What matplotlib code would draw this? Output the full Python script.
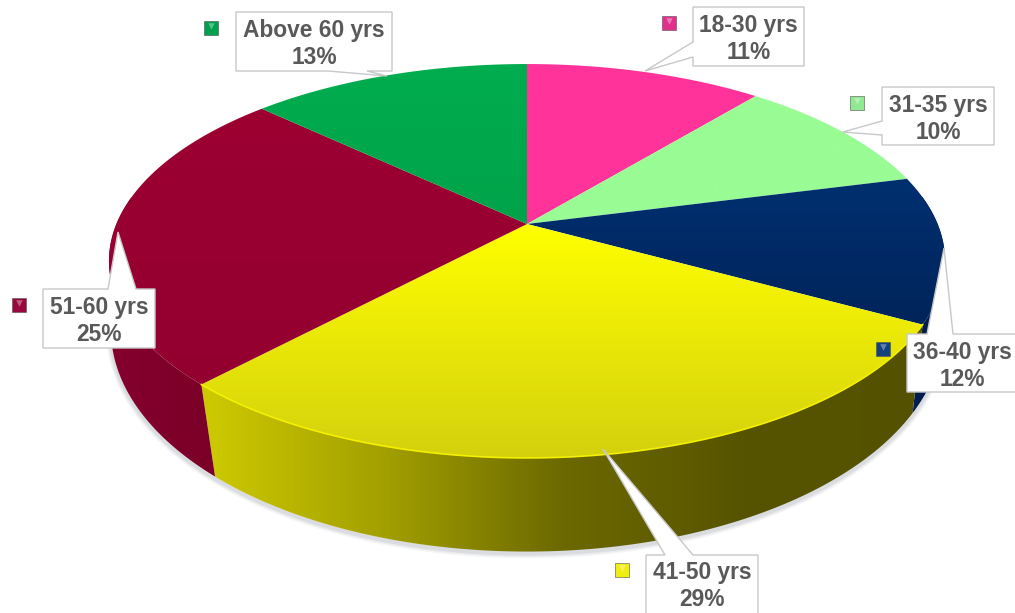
import numpy as np
import matplotlib
matplotlib.use('Agg')
import matplotlib.pyplot as plt
from matplotlib.colors import LinearSegmentedColormap
from matplotlib.patches import Polygon

# age groups, clockwise from 12 o'clock
labels = ['18-30 yrs', '31-35 yrs', '36-40 yrs', '41-50 yrs', '51-60 yrs', 'Above 60 yrs']
shares = [11, 10, 12, 29, 25, 13]

top_colors = [('#ff3399', '#ff3399'), ('#99fc94', '#99fc94'), ('#003070', '#00245a'),
              ('#ffff00', '#d4d00e'), ('#9c0032', '#930030'), ('#00ad4e', '#00a34a')]
wall_colors = [('#a01060', '#a01060'), ('#60a060', '#60a060'), ('#001f50', '#001a45'),
               ('#cfcb00', '#a3a000', '#6c6900', '#575400', '#545100'),
               ('#85002d', '#7a0028'), ('#006030', '#006030')]
marker_colors = ['#e0308c', '#90e890', '#12427e', '#f0ee10', '#99083c', '#00a050']

# label box x0, y0, x1, y1 / callout tip / where the callout leaves the box
boxes = [(693, 7, 804, 66), (882, 87, 994, 145), (907, 334, 1016, 392),
         (646, 555, 758, 625), (43, 289, 155, 348), (236, 12, 392, 71)]
tips = [(645, 71), (843, 132), (944, 248), (603, 449), (118, 232), (387, 76)]
bases = [('left', 42, 57), ('left', 121, 135), ('top', 927, 953),
         ('top', 665, 693), ('top', 108, 136), ('bottom', 328, 367)]
markers = [(669, 23), (857, 103), (883, 349), (622, 570), (19, 305), (211, 28)]

text_color = '#595959'
cx = 527


def rim(t, hub_y, b, a, k):
    # circle seen in perspective, t clockwise from the back of the pie
    u, v = np.sin(t), -np.cos(t)
    d = 1 - k * v
    return cx + b * u / d, hub_y + a * v / d


def top_rim(t):
    return rim(t, 224, 410.6, 190, 0.1878)


def bottom_rim(t):
    return rim(t, 301, 412.5, 218, 0.13)


def fill_gradient(ax, xy, colors, extent, vertical, z):
    cmap = LinearSegmentedColormap.from_list('g', list(colors))
    ramp = np.linspace(0, 1, 256)
    ramp = ramp.reshape(-1, 1) if vertical else ramp.reshape(1, -1)
    im = ax.imshow(ramp, cmap=cmap, extent=extent, origin='upper', aspect='auto',
                   zorder=z, interpolation='bilinear')
    patch = Polygon(xy, closed=True, transform=ax.transData, fc='none', ec='none')
    ax.add_patch(patch)
    im.set_clip_path(patch)


fig = plt.figure(figsize=(10.15, 6.13), dpi=100)
ax = fig.add_axes([0, 0, 1, 1])

edges = np.cumsum([0] + shares) / sum(shares) * 2 * np.pi

# soft shadow under the front rim
t_front = np.linspace(np.pi * 0.45, np.pi * 1.55, 200)
sx, sy = bottom_rim(t_front)
for lw, al in [(7, 0.05), (5, 0.07), (3, 0.1)]:
    ax.plot(sx, sy + 2, color='#506070', lw=lw, alpha=al, zorder=1, solid_capstyle='round')

# side walls
for i in range(len(shares)):
    t0, t1 = edges[i], edges[i + 1]
    t = np.linspace(t0, t1, 120)
    # only the front half of the pie shows a wall
    t = t[(np.cos(t) < 0.15)]
    if len(t) < 2:
        continue
    xt, yt = top_rim(t)
    xb, yb = bottom_rim(t)
    xy = np.column_stack([np.r_[xt, xb[::-1]], np.r_[yt, yb[::-1]]])
    ext = (xy[:, 0].min() - 1, xy[:, 0].max() + 1, xy[:, 1].max() + 1, xy[:, 1].min() - 1)
    fill_gradient(ax, xy, wall_colors[i], ext, False, 2)

# top faces
for i in range(len(shares)):
    t = np.linspace(edges[i], edges[i + 1], 160)
    xt, yt = top_rim(t)
    xy = np.column_stack([np.r_[cx, xt], np.r_[224, yt]])
    ext = (xy[:, 0].min() - 1, xy[:, 0].max() + 1, xy[:, 1].max() + 1, xy[:, 1].min() - 1)
    fill_gradient(ax, xy, top_colors[i], ext, True, 3)

# thin light edge on the yellow rim
t = np.linspace(edges[3], edges[4], 160)
xt, yt = top_rim(t)
ax.plot(xt, yt, color='#f4f000', lw=1.2, zorder=4)

# callouts and labels
for i in range(len(labels)):
    x0, y0, x1, y1 = boxes[i]
    side, b0, b1 = bases[i]
    if side == 'top':
        pts = [(x0, y0), (b0, y0), tips[i], (b1, y0), (x1, y0), (x1, y1), (x0, y1)]
    elif side == 'bottom':
        pts = [(x0, y0), (x1, y0), (x1, y1), (b1, y1), tips[i], (b0, y1), (x0, y1)]
    else:
        pts = [(x0, y0), (x1, y0), (x1, y1), (x0, y1), (x0, b1), tips[i], (x0, b0)]
    ax.add_patch(Polygon(pts, closed=True, fc='white', ec='#c8c8c8', lw=1, zorder=5))
    ax.text((x0 + min(x1, 1015)) / 2 + (0 if i != 2 else 1), y0 + 32 if i != 3 else 586,
            labels[i] + '\n' + str(shares[i]) + '%', ha='center', va='center',
            family='Liberation Sans', weight='bold', fontsize=16.4, color=text_color,
            linespacing=1.22, zorder=6)
    mx, my = markers[i]
    ax.scatter(mx, my, marker='s', s=95, color=marker_colors[i], edgecolors='#505050',
               linewidths=0.4, zorder=6)
    ax.scatter(mx, my - 2, marker='v', s=22, color='white', alpha=0.35, linewidths=0, zorder=7)

ax.set_xlim(0, 1015)
ax.set_ylim(613, 0)
ax.axis('off')
fig.savefig('out.png', dpi=100, facecolor='white')
